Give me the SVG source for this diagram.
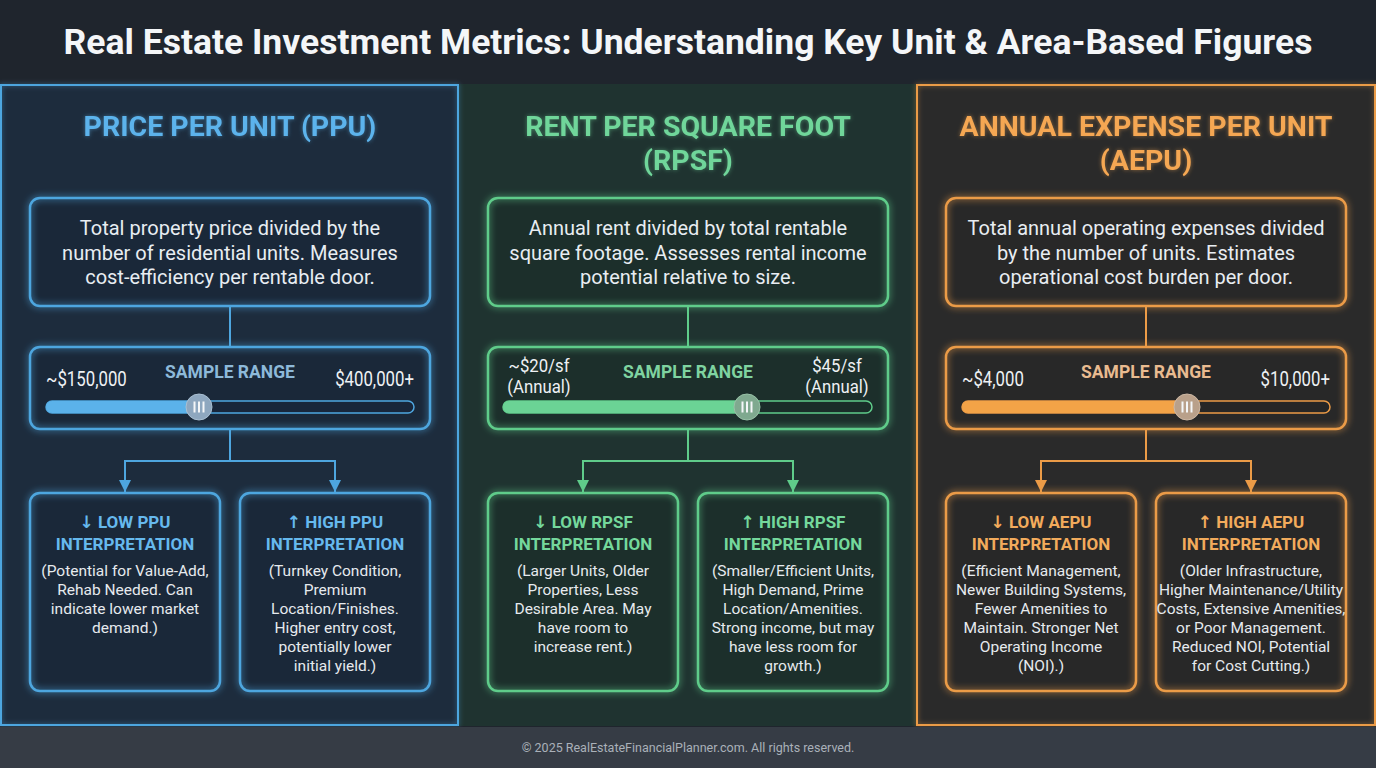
<svg xmlns="http://www.w3.org/2000/svg" width="1376" height="768" viewBox="0 0 1376 768">
<defs>
<style>
text{font-family:Roboto,"Liberation Sans",sans-serif}
.title{font-size:35.5px;font-weight:700;fill:#f4f6f8;text-anchor:middle}
.hdr{font-size:28.5px;font-weight:700;text-anchor:middle}
.desc{font-size:20px;fill:#e8edf2;text-anchor:middle}
.sr{font-size:17.5px;font-weight:700;text-anchor:middle}
.rl{font-size:20px;fill:#eef1f4}
.rl2{font-size:18px;fill:#eef1f4;text-anchor:middle}
.bt{font-size:17px;font-weight:700;text-anchor:middle}
.arr{font-family:"DejaVu Sans",sans-serif;font-size:17px;font-weight:700}
.body{font-size:15.5px;fill:#e6eaee;text-anchor:middle}
.foot{font-size:12.5px;fill:#aab1b9;text-anchor:middle}
.b-st{fill:none;stroke:#4ea6df;stroke-width:2.5}
.g-st{fill:none;stroke:#5fcc8a;stroke-width:2.5}
.o-st{fill:none;stroke:#eb9b47;stroke-width:2.5}
.b-fill{fill:#1a2839}
.g-fill{fill:#1c2f2b}
.o-fill{fill:#282828}
.bar{fill:#f4f6f8}
.conn{fill:none;stroke-width:2}
</style>
<filter id="glow" x="-15%" y="-15%" width="130%" height="130%">
<feGaussianBlur in="SourceGraphic" stdDeviation="3.5" result="b"/>
<feMerge><feMergeNode in="b"/><feMergeNode in="SourceGraphic"/></feMerge>
</filter>
<filter id="cglow" x="-5%" y="-5%" width="110%" height="110%">
<feGaussianBlur in="SourceGraphic" stdDeviation="2.5" result="b"/>
<feComponentTransfer in="b" result="b2"><feFuncA type="linear" slope="0.6"/></feComponentTransfer>
<feMerge><feMergeNode in="b2"/><feMergeNode in="SourceGraphic"/></feMerge>
</filter>
<filter id="tglow" x="-10%" y="-30%" width="120%" height="160%">
<feGaussianBlur in="SourceGraphic" stdDeviation="2" result="b"/>
<feComponentTransfer in="b" result="b2"><feFuncA type="linear" slope="0.5"/></feComponentTransfer>
<feMerge><feMergeNode in="b2"/><feMergeNode in="SourceGraphic"/></feMerge>
</filter>
<marker id="ab" viewBox="0 0 12 12" refX="12" refY="6" markerWidth="12" markerHeight="12" markerUnits="userSpaceOnUse" orient="auto"><path d="M0,0 L12,6 L0,12 z" fill="#4ea6df"/></marker>
<marker id="ag" viewBox="0 0 12 12" refX="12" refY="6" markerWidth="12" markerHeight="12" markerUnits="userSpaceOnUse" orient="auto"><path d="M0,0 L12,6 L0,12 z" fill="#5fcc8a"/></marker>
<marker id="ao" viewBox="0 0 12 12" refX="12" refY="6" markerWidth="12" markerHeight="12" markerUnits="userSpaceOnUse" orient="auto"><path d="M0,0 L12,6 L0,12 z" fill="#eb9b47"/></marker>
</defs>

<!-- page background -->
<rect x="0" y="0" width="1376" height="768" fill="#1f252d"/>

<!-- columns background -->
<g id="columns">
<rect x="458" y="84" width="458" height="642" fill="#1f3330"/>
<line x1="458" y1="85" x2="916" y2="85" stroke="#5fcc8a" stroke-width="2" filter="url(#cglow)"/>
<line x1="458" y1="725" x2="916" y2="725" stroke="#5fcc8a" stroke-width="2" filter="url(#cglow)"/>
<rect x="1" y="85" width="457" height="640" fill="#1d2c3d"/>
<rect x="1" y="85" width="457" height="640" fill="none" stroke="#4ea6df" stroke-width="2" filter="url(#cglow)"/>
<rect x="917" y="85" width="458" height="640" fill="#2a2a2a"/>
<rect x="917" y="85" width="458" height="640" fill="none" stroke="#eb9b47" stroke-width="2" filter="url(#cglow)"/>
</g>

<g id="title">
<text class="title" x="688" y="54">Real Estate Investment Metrics: Understanding Key Unit &amp; Area-Based Figures</text>
</g>

<!-- connectors -->
<g id="connectors">
<path class="conn" stroke="#4ea6df" d="M230,307 V347"/>
<path class="conn" stroke="#4ea6df" d="M230,429 V461 H125 V492" marker-end="url(#ab)"/>
<path class="conn" stroke="#4ea6df" d="M230,461 H335 V492" marker-end="url(#ab)"/>
<path class="conn" stroke="#5fcc8a" d="M688,307 V347"/>
<path class="conn" stroke="#5fcc8a" d="M688,429 V461 H583 V492" marker-end="url(#ag)"/>
<path class="conn" stroke="#5fcc8a" d="M688,461 H793 V492" marker-end="url(#ag)"/>
<path class="conn" stroke="#eb9b47" d="M1146,307 V347"/>
<path class="conn" stroke="#eb9b47" d="M1146,429 V461 H1041 V492" marker-end="url(#ao)"/>
<path class="conn" stroke="#eb9b47" d="M1146,461 H1251 V492" marker-end="url(#ao)"/>
</g>

<!-- ===== Column 1: PPU ===== -->
<g id="ppu-header">
<text class="hdr" x="230" y="136" fill="#5cb3ec" filter="url(#tglow)">PRICE PER UNIT (PPU)</text>
</g>
<g id="ppu-desc">
<rect class="b-fill" x="30" y="198" width="400" height="108" rx="10"/>
<rect class="b-st" x="30" y="198" width="400" height="108" rx="10" filter="url(#glow)"/>
<text class="desc" x="230" y="235">Total property price divided by the</text>
<text class="desc" x="230" y="260">number of residential units. Measures</text>
<text class="desc" x="230" y="284">cost-efficiency per rentable door.</text>
</g>
<g id="ppu-range">
<rect class="b-fill" x="30" y="347" width="400" height="82" rx="10"/>
<rect class="b-st" x="30" y="347" width="400" height="82" rx="10" filter="url(#glow)"/>
<text class="rl" transform="translate(46 386) scale(0.84 1)">~$150,000</text>
<text class="sr" x="230" y="378" fill="#8db9d9">SAMPLE RANGE</text>
<text class="rl" text-anchor="end" transform="translate(414 386) scale(0.84 1)">$400,000+</text>
<rect x="46" y="401" width="368" height="12" rx="6" fill="#18263a" stroke="#4ea6df" stroke-width="1.5"/>
<rect x="46" y="401" width="156" height="12" rx="6" fill="#5bb2ea"/>
<circle cx="199" cy="407" r="13" fill="#8ea7bf" stroke="#a9bfd2" stroke-width="1"/>
<rect class="bar" x="193.5" y="401.5" width="2" height="11"/>
<rect class="bar" x="198" y="401.5" width="2" height="11"/>
<rect class="bar" x="202.5" y="401.5" width="2" height="11"/>
</g>
<g id="ppu-low">
<rect class="b-fill" x="30" y="493" width="190" height="198" rx="10"/>
<rect class="b-st" x="30" y="493" width="190" height="198" rx="10" filter="url(#glow)"/>
<text class="bt" x="125" y="528" fill="#66b9ee"><tspan class="arr">↓</tspan> LOW PPU</text>
<text class="bt" x="125" y="550" fill="#66b9ee">INTERPRETATION</text>
<text class="body" x="125" y="576">(Potential for Value-Add,</text>
<text class="body" x="125" y="595">Rehab Needed. Can</text>
<text class="body" x="125" y="614">indicate lower market</text>
<text class="body" x="125" y="633">demand.)</text>
</g>
<g id="ppu-high">
<rect class="b-fill" x="240" y="493" width="190" height="198" rx="10"/>
<rect class="b-st" x="240" y="493" width="190" height="198" rx="10" filter="url(#glow)"/>
<text class="bt" x="335" y="528" fill="#66b9ee"><tspan class="arr">↑</tspan> HIGH PPU</text>
<text class="bt" x="335" y="550" fill="#66b9ee">INTERPRETATION</text>
<text class="body" x="335" y="576">(Turnkey Condition,</text>
<text class="body" x="335" y="595">Premium</text>
<text class="body" x="335" y="614">Location/Finishes.</text>
<text class="body" x="335" y="633">Higher entry cost,</text>
<text class="body" x="335" y="652">potentially lower</text>
<text class="body" x="335" y="671">initial yield.)</text>
</g>

<!-- ===== Column 2: RPSF ===== -->
<g id="rpsf-header">
<text class="hdr" x="688" y="136" fill="#6fd69a" filter="url(#tglow)">RENT PER SQUARE FOOT</text>
<text class="hdr" x="688" y="170" fill="#6fd69a" filter="url(#tglow)">(RPSF)</text>
</g>
<g id="rpsf-desc">
<rect class="g-fill" x="488" y="198" width="400" height="108" rx="10"/>
<rect class="g-st" x="488" y="198" width="400" height="108" rx="10" filter="url(#glow)"/>
<text class="desc" x="688" y="235">Annual rent divided by total rentable</text>
<text class="desc" x="688" y="260">square footage. Assesses rental income</text>
<text class="desc" x="688" y="284">potential relative to size.</text>
</g>
<g id="rpsf-range">
<rect class="g-fill" x="488" y="347" width="400" height="82" rx="10"/>
<rect class="g-st" x="488" y="347" width="400" height="82" rx="10" filter="url(#glow)"/>
<text class="rl2" transform="translate(539 372) scale(0.93 1)">~$20/sf</text>
<text class="rl2" transform="translate(539 393) scale(0.93 1)">(Annual)</text>
<text class="sr" x="688" y="378" fill="#7fd3a0">SAMPLE RANGE</text>
<text class="rl2" transform="translate(837 372) scale(0.93 1)">$45/sf</text>
<text class="rl2" transform="translate(837 393) scale(0.93 1)">(Annual)</text>
<rect x="503" y="401" width="369" height="12" rx="6" fill="#1a2d29" stroke="#5fcc8a" stroke-width="1.5"/>
<rect x="503" y="401" width="248" height="12" rx="6" fill="#6bd395"/>
<circle cx="747" cy="407" r="13" fill="#7fa98f" stroke="#98c2a7" stroke-width="1"/>
<rect class="bar" x="741.5" y="401.5" width="2" height="11"/>
<rect class="bar" x="746" y="401.5" width="2" height="11"/>
<rect class="bar" x="750.5" y="401.5" width="2" height="11"/>
</g>
<g id="rpsf-low">
<rect class="g-fill" x="488" y="493" width="190" height="198" rx="10"/>
<rect class="g-st" x="488" y="493" width="190" height="198" rx="10" filter="url(#glow)"/>
<text class="bt" x="583" y="528" fill="#74d89c"><tspan class="arr">↓</tspan> LOW RPSF</text>
<text class="bt" x="583" y="550" fill="#74d89c">INTERPRETATION</text>
<text class="body" x="583" y="576">(Larger Units, Older</text>
<text class="body" x="583" y="595">Properties, Less</text>
<text class="body" x="583" y="614">Desirable Area. May</text>
<text class="body" x="583" y="633">have room to</text>
<text class="body" x="583" y="652">increase rent.)</text>
</g>
<g id="rpsf-high">
<rect class="g-fill" x="698" y="493" width="190" height="198" rx="10"/>
<rect class="g-st" x="698" y="493" width="190" height="198" rx="10" filter="url(#glow)"/>
<text class="bt" x="793" y="528" fill="#74d89c"><tspan class="arr">↑</tspan> HIGH RPSF</text>
<text class="bt" x="793" y="550" fill="#74d89c">INTERPRETATION</text>
<text class="body" x="793" y="576">(Smaller/Efficient Units,</text>
<text class="body" x="793" y="595">High Demand, Prime</text>
<text class="body" x="793" y="614">Location/Amenities.</text>
<text class="body" x="793" y="633">Strong income, but may</text>
<text class="body" x="793" y="652">have less room for</text>
<text class="body" x="793" y="671">growth.)</text>
</g>

<!-- ===== Column 3: AEPU ===== -->
<g id="aepu-header">
<text class="hdr" x="1146" y="136" fill="#f5a752" filter="url(#tglow)">ANNUAL EXPENSE PER UNIT</text>
<text class="hdr" x="1146" y="170" fill="#f5a752" filter="url(#tglow)">(AEPU)</text>
</g>
<g id="aepu-desc">
<rect class="o-fill" x="946" y="198" width="400" height="108" rx="10"/>
<rect class="o-st" x="946" y="198" width="400" height="108" rx="10" filter="url(#glow)"/>
<text class="desc" x="1146" y="235">Total annual operating expenses divided</text>
<text class="desc" x="1146" y="260">by the number of units. Estimates</text>
<text class="desc" x="1146" y="284">operational cost burden per door.</text>
</g>
<g id="aepu-range">
<rect class="o-fill" x="946" y="347" width="400" height="82" rx="10"/>
<rect class="o-st" x="946" y="347" width="400" height="82" rx="10" filter="url(#glow)"/>
<text class="rl" transform="translate(962 386) scale(0.84 1)">~$4,000</text>
<text class="sr" x="1146" y="378" fill="#e9bb90">SAMPLE RANGE</text>
<text class="rl" text-anchor="end" transform="translate(1330 386) scale(0.84 1)">$10,000+</text>
<rect x="962" y="401" width="368" height="12" rx="6" fill="#262626" stroke="#eb9b47" stroke-width="1.5"/>
<rect x="962" y="401" width="228" height="12" rx="6" fill="#f3a347"/>
<circle cx="1187" cy="407" r="13" fill="#b9a08a" stroke="#cdb8a4" stroke-width="1"/>
<rect class="bar" x="1181.5" y="401.5" width="2" height="11"/>
<rect class="bar" x="1186" y="401.5" width="2" height="11"/>
<rect class="bar" x="1190.5" y="401.5" width="2" height="11"/>
</g>
<g id="aepu-low">
<rect class="o-fill" x="946" y="493" width="190" height="198" rx="10"/>
<rect class="o-st" x="946" y="493" width="190" height="198" rx="10" filter="url(#glow)"/>
<text class="bt" x="1041" y="528" fill="#f2ab5c"><tspan class="arr">↓</tspan> LOW AEPU</text>
<text class="bt" x="1041" y="550" fill="#f2ab5c">INTERPRETATION</text>
<text class="body" x="1041" y="576">(Efficient Management,</text>
<text class="body" x="1041" y="595">Newer Building Systems,</text>
<text class="body" x="1041" y="614">Fewer Amenities to</text>
<text class="body" x="1041" y="633">Maintain. Stronger Net</text>
<text class="body" x="1041" y="652">Operating Income</text>
<text class="body" x="1041" y="671">(NOI).)</text>
</g>
<g id="aepu-high">
<rect class="o-fill" x="1156" y="493" width="190" height="198" rx="10"/>
<rect class="o-st" x="1156" y="493" width="190" height="198" rx="10" filter="url(#glow)"/>
<text class="bt" x="1251" y="528" fill="#f2ab5c"><tspan class="arr">↑</tspan> HIGH AEPU</text>
<text class="bt" x="1251" y="550" fill="#f2ab5c">INTERPRETATION</text>
<text class="body" x="1251" y="576">(Older Infrastructure,</text>
<text class="body" x="1251" y="595">Higher Maintenance/Utility</text>
<text class="body" x="1251" y="614">Costs, Extensive Amenities,</text>
<text class="body" x="1251" y="633">or Poor Management.</text>
<text class="body" x="1251" y="652">Reduced NOI, Potential</text>
<text class="body" x="1251" y="671">for Cost Cutting.)</text>
</g>

<g id="footer">
<rect x="0" y="727" width="1376" height="41" fill="#363c45"/>
<text class="foot" x="688" y="752">© 2025 RealEstateFinancialPlanner.com. All rights reserved.</text>
</g>
</svg>
